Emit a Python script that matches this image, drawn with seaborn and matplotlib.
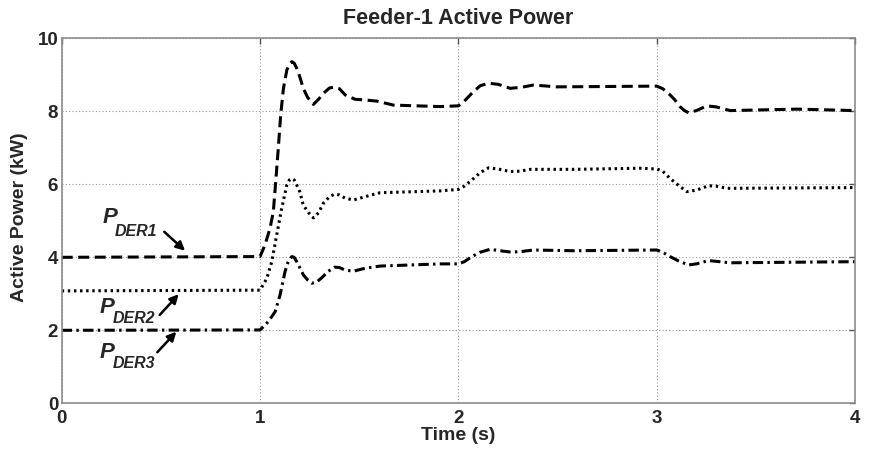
import matplotlib
matplotlib.use("Agg")
import matplotlib.pyplot as plt
import seaborn as sns

# ---- data ----
t_der1 = [0, 1.0, 1.025, 1.05, 1.067, 1.079, 1.092, 1.104, 1.118, 1.135,
          1.148, 1.16, 1.172, 1.185, 1.20, 1.218, 1.24, 1.269, 1.295, 1.319,
          1.35, 1.375, 1.40, 1.429, 1.479, 1.529, 1.588, 1.672, 1.908, 2.0,
          2.03, 2.076, 2.11, 2.151, 2.20, 2.261, 2.32, 2.378, 2.496, 3.0,
          3.03, 3.067, 3.09, 3.117, 3.14, 3.16, 3.20, 3.253, 3.30, 3.37,
          3.707, 4.0]
p_der1 = [4.0, 4.02, 4.34, 4.79, 5.25, 6.07, 6.99, 7.90, 8.63, 9.13,
          9.30, 9.36, 9.32, 9.18, 8.95, 8.63, 8.38, 8.19, 8.33, 8.49,
          8.64, 8.66, 8.62, 8.45, 8.33, 8.31, 8.28, 8.17, 8.13, 8.15,
          8.28, 8.54, 8.70, 8.77, 8.74, 8.63, 8.66, 8.72, 8.67, 8.69,
          8.62, 8.45, 8.32, 8.13, 8.02, 7.96, 8.02, 8.15, 8.12, 8.02,
          8.06, 8.02]

t_der2 = [0, 1.0, 1.034, 1.059, 1.084, 1.109, 1.135, 1.148, 1.16, 1.172,
          1.185, 1.20, 1.218, 1.245, 1.269, 1.295, 1.319, 1.35, 1.375, 1.40,
          1.429, 1.471, 1.529, 1.605, 1.908, 2.0, 2.03, 2.068, 2.11, 2.151,
          2.20, 2.261, 2.31, 2.362, 2.58, 2.916, 3.0, 3.03, 3.067, 3.11,
          3.152, 3.20, 3.261, 3.30, 3.353, 4.0]
p_der2 = [3.08, 3.10, 3.42, 3.88, 4.61, 5.34, 5.98, 6.12, 6.16, 6.12,
          5.98, 5.80, 5.43, 5.22, 5.08, 5.22, 5.48, 5.66, 5.73, 5.71,
          5.62, 5.57, 5.66, 5.77, 5.82, 5.86, 5.95, 6.12, 6.32, 6.45,
          6.42, 6.35, 6.36, 6.41, 6.41, 6.44, 6.42, 6.36, 6.16, 5.97,
          5.80, 5.84, 5.96, 5.95, 5.89, 5.91]

t_der3 = [0, 1.0, 1.042, 1.076, 1.101, 1.126, 1.143, 1.16, 1.172, 1.185,
          1.20, 1.218, 1.24, 1.261, 1.285, 1.311, 1.345, 1.375, 1.40, 1.429,
          1.471, 1.529, 1.605, 1.908, 2.0, 2.03, 2.068, 2.11, 2.16, 2.21,
          2.269, 2.32, 2.378, 2.58, 3.0, 3.03, 3.067, 3.11, 3.16, 3.20,
          3.261, 3.30, 3.37, 4.0]
p_der3 = [2.0, 2.01, 2.24, 2.51, 2.97, 3.61, 3.90, 4.02, 4.0, 3.88,
          3.72, 3.52, 3.38, 3.29, 3.32, 3.44, 3.62, 3.73, 3.72, 3.65,
          3.62, 3.70, 3.76, 3.82, 3.82, 3.88, 4.02, 4.14, 4.22, 4.18,
          4.14, 4.16, 4.20, 4.18, 4.20, 4.14, 4.02, 3.90, 3.79, 3.82,
          3.91, 3.89, 3.85, 3.88]

x_ticks = [0, 1, 2, 3, 4]
y_ticks = [0, 2, 4, 6, 8, 10]
title = "Feeder-1 Active Power"
x_label = "Time (s)"
y_label = "Active Power (kW)"
labels = ["DER1", "DER2", "DER3"]

# ---- styling ----
sns.set_style("white")
plt.rcParams['font.family'] = ['Liberation Sans', 'DejaVu Sans']

fig = plt.figure(figsize=(8.69, 4.55), dpi=100)
ax = fig.add_axes([0.071, 0.1136, 0.913, 0.8022])

sns.lineplot(x=t_der1, y=p_der1, ax=ax, color='black', lw=2.2, linestyle=(0, (3.6, 1.8)),
             estimator=None, sort=False)
sns.lineplot(x=t_der2, y=p_der2, ax=ax, color='black', lw=2.2, linestyle=(0, (0.8, 1.2)),
             estimator=None, sort=False)
sns.lineplot(x=t_der3, y=p_der3, ax=ax, color='black', lw=2.2,
             linestyle=(0, (3.4, 1.4, 0.8, 1.4)), estimator=None, sort=False)

ax.set_xlim(0, 4)
ax.set_ylim(0, 10)
ax.set_xticks(x_ticks)
ax.set_yticks(y_ticks)
ax.set_xticklabels([str(v) for v in x_ticks], fontsize=13.5, fontweight='bold')
ax.set_yticklabels([str(v) for v in y_ticks], fontsize=13.5, fontweight='bold')
ax.tick_params(axis='both', direction='in', length=4, width=1, color='#555555',
               top=True, right=True)
ax.tick_params(axis='x', pad=4.5)
ax.tick_params(axis='y', pad=2.5)

ax.grid(True, color='#9a9a9a', linestyle=(0, (1, 2)), linewidth=0.8)
for s in ax.spines.values():
    s.set_color('#8c8c8c')
    s.set_linewidth(1.2)

ax.set_title(title, fontsize=15.5, fontweight='bold', pad=10)
ax.set_xlabel(x_label, fontsize=14, fontweight='bold')
ax.set_ylabel(y_label, fontsize=14, fontweight='bold')
ax.xaxis.set_label_coords(0.5, -0.066)
ax.yaxis.set_label_coords(-0.042, 0.51)

# annotations
p_pos = [(0.207, 4.93), (0.193, 2.48), (0.193, 1.24)]
sub_pos = [(0.265, 4.58), (0.255, 2.19), (0.255, 0.98)]
arrows = [((0.517, 4.70), (0.622, 4.18)),
          ((0.494, 2.42), (0.590, 2.99)),
          ((0.482, 1.40), (0.578, 1.96))]
for lab, pp, sp, (tail, head) in zip(labels, p_pos, sub_pos, arrows):
    ax.text(pp[0], pp[1], "P", fontsize=16, fontweight='bold', style='italic',
            ha='left', va='baseline')
    ax.text(sp[0], sp[1], lab, fontsize=11.5, fontweight='bold', style='italic',
            ha='left', va='baseline')
    ax.annotate('', xy=head, xytext=tail,
                arrowprops=dict(arrowstyle='-|>', color='black', lw=1.8,
                                mutation_scale=13, shrinkA=0, shrinkB=0))

fig.savefig('out.png', dpi=100)
